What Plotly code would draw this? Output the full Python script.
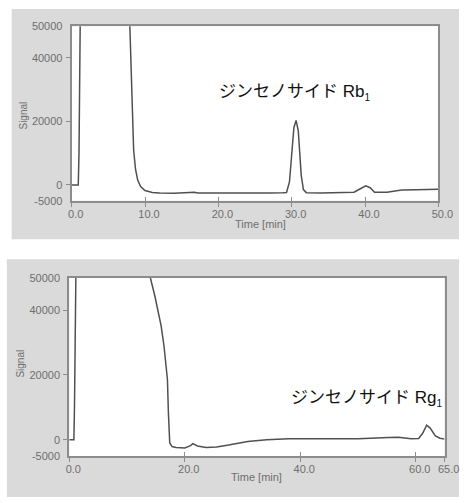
import plotly.graph_objects as go

# ---------------- data ----------------
# Top chromatogram (ginsenoside Rb1)
t_top = [0.0, 0.9, 1.0, 1.2, 7.8, 7.95, 8.1, 8.25, 8.45, 8.7, 9.0, 9.4, 10.0, 11.0, 12.0,
         14.0, 16.7, 17.2, 20.0, 24.0, 27.0, 28.8, 29.3, 29.7, 30.0, 30.3, 30.6, 30.9, 31.1,
         31.3, 31.6, 32.0, 34.0, 37.0, 38.5, 39.3, 40.1, 40.7, 41.3, 43.0, 45.0, 47.0, 50.0]
s_top = [0, 0, 10000, 60000, 60000, 50000, 36000, 25000, 11000, 5000, 1500, -500, -1800, -2400, -2550,
         -2600, -2300, -2550, -2600, -2600, -2550, -2500, -2400, 1000, 10000, 18000, 20300, 17000, 10000,
         3000, -1500, -2450, -2550, -2500, -2300, -1300, -300, -900, -2300, -2300, -1600, -1500, -1400]

# Bottom chromatogram (ginsenoside Rg1)
t_bot = [0.0, 0.8, 0.9, 1.2, 13.8, 13.9, 14.8, 15.9, 16.4, 17.0, 17.17, 17.4, 17.8, 18.5,
         20.0, 21.0, 21.4, 22.2, 23.7, 25.5, 27.6, 30.9, 34.2, 38.0, 45.0, 50.0, 55.3, 57.0,
         59.2, 60.5, 61.2, 61.9, 62.5, 63.4, 64.2, 65.0]
s_bot = [0, 0, 10000, 60000, 60000, 51000, 44500, 35200, 29000, 18600, 8300, -1000, -2100, -2400,
         -2500, -1800, -1200, -1900, -2400, -2200, -1600, -500, 0, 300, 300, 300, 700, 800,
         300, 400, 2000, 4500, 3600, 1200, 500, 200]

x_top_ticks = [0, 10, 20, 30, 40, 50]
x_top_text = ["0.0", "10.0", "20.0", "30.0", "40.0", "50.0"]
x_bot_ticks = [0, 20, 40, 60, 65]
x_bot_text = ["0.0", "20.0", "40.0", "60.0", "65.0"]
y_label_vals = [50000, 40000, 20000, 0, -5000]
y_label_text = ["50000", "40000", "20000", "0", "-5000"]
y_mark_vals = [40000, 20000, 0]

label_top = "ジンセノサイド Rb<sub><span style='font-size:10px'>1</span></sub>"
label_bot = "ジンセノサイド Rg<sub><span style='font-size:10px'>1</span></sub>"
x_title = "Time [min]"
y_title = "Signal"

# ---------------- layout helpers ----------------
W, H = 474, 503
def px(x):
    return x / W
def py(y):
    return 1 - y / H

LINE = "#505050"
FRAME = "#8c8c8c"
TXT = "#6e6e6e"
PANEL = "#dadada"
tick_font = dict(family="Liberation Sans, Arial, sans-serif", size=11, color=TXT)

top_dx = [px(70.5), px(452.5)]
top_dy = [py(199.5), py(20.7)]
bot_dx = [px(68), px(459)]
bot_dy = [py(461), py(278.3)]

fig = go.Figure()
fig.add_trace(go.Scatter(x=t_top, y=s_top, mode="lines", xaxis="x", yaxis="y",
                         line=dict(color=LINE, width=1.5), showlegend=False, hoverinfo="skip"))
fig.add_trace(go.Scatter(x=t_bot, y=s_bot, mode="lines", xaxis="x2", yaxis="y2",
                         line=dict(color=LINE, width=1.5), showlegend=False, hoverinfo="skip"))
# empty traces to carry overlay tick axes
for xa, ya in [("x3", "y"), ("x", "y3"), ("x4", "y2"), ("x2", "y4")]:
    fig.add_trace(go.Scatter(x=[], y=[], xaxis=xa, yaxis=ya, showlegend=False, hoverinfo="skip"))

def xaxis_main(domain, rng, tv, tt, anchor):
    return dict(domain=domain, range=rng, anchor=anchor, tickvals=tv, ticktext=tt,
                ticks="outside", ticklen=4, tickwidth=1.2, tickcolor=FRAME,
                showline=True, mirror=True, linecolor=FRAME, linewidth=2,
                showgrid=False, zeroline=False, tickfont=tick_font, ticklabelshift=4,
                ticklabelstandoff=-2, fixedrange=True)

def xaxis_over(over, rng, tv, anchor):
    return dict(overlaying=over, range=rng, anchor=anchor, tickvals=tv,
                ticks="inside", ticklen=4, tickwidth=1.2, tickcolor=FRAME,
                showticklabels=False, showline=False, showgrid=False, zeroline=False)

def yaxis_main(domain, anchor):
    return dict(domain=domain, range=[-5000, 50000], anchor=anchor,
                tickvals=y_label_vals, ticktext=y_label_text,
                ticks="outside", ticklen=5, tickcolor="rgba(0,0,0,0)",
                showline=True, mirror=True, linecolor=FRAME, linewidth=2,
                showgrid=False, zeroline=False, tickfont=tick_font, fixedrange=True)

def yaxis_over(over, anchor):
    return dict(overlaying=over, range=[-5000, 50000], anchor=anchor, tickvals=y_mark_vals,
                ticks="outside", ticklen=5, tickwidth=1.2, tickcolor=FRAME,
                showticklabels=False, showline=False, showgrid=False, zeroline=False)

ann_font = dict(family="Liberation Sans, Noto Sans CJK JP, sans-serif", size=17, color="#111111")
small_font = dict(family="Liberation Sans, Arial, sans-serif", size=11, color=TXT)
sig_font = dict(family="Liberation Sans, Arial, sans-serif", size=10, color=TXT)

fig.update_layout(
    width=W, height=H,
    margin=dict(l=0, r=0, t=0, b=0),
    paper_bgcolor="white", plot_bgcolor="white",
    xaxis=xaxis_main(top_dx, [0, 50], x_top_ticks, x_top_text, "y"),
    yaxis=yaxis_main(top_dy, "x"),
    xaxis2=xaxis_main(bot_dx, [0, 65], x_bot_ticks, x_bot_text, "y2"),
    yaxis2=yaxis_main(bot_dy, "x2"),
    xaxis3=xaxis_over("x", [0, 50], x_top_ticks, "y"),
    yaxis3=yaxis_over("y", "x"),
    xaxis4=xaxis_over("x2", [0, 65], x_bot_ticks, "y2"),
    yaxis4=yaxis_over("y2", "x2"),
    shapes=[
        dict(type="rect", xref="paper", yref="paper", x0=px(8), x1=1, y0=py(239), y1=py(3),
             fillcolor=PANEL, line=dict(width=0), layer="below"),
        dict(type="rect", xref="paper", yref="paper", x0=px(3), x1=1, y0=0, y1=py(259.5),
             fillcolor=PANEL, line=dict(width=0), layer="below"),
        dict(type="rect", xref="paper", yref="paper", x0=top_dx[0], x1=top_dx[1], y0=top_dy[0], y1=top_dy[1],
             fillcolor="white", line=dict(width=0), layer="below"),
        dict(type="rect", xref="paper", yref="paper", x0=bot_dx[0], x1=bot_dx[1], y0=bot_dy[0], y1=bot_dy[1],
             fillcolor="white", line=dict(width=0), layer="below"),
    ],
    annotations=[
        dict(text=label_top, xref="paper", yref="paper", x=px(222), y=py(89), xanchor="left", yanchor="middle",
             showarrow=False, font=ann_font),
        dict(text=label_bot, xref="paper", yref="paper", x=px(297), y=py(402), xanchor="left", yanchor="middle",
             showarrow=False, font=ann_font),
        dict(text=x_title, xref="paper", yref="paper", x=px(267), y=py(223), xanchor="center", yanchor="middle",
             showarrow=False, font=small_font),
        dict(text=x_title, xref="paper", yref="paper", x=px(263), y=py(483), xanchor="center", yanchor="middle",
             showarrow=False, font=small_font),
        dict(text=y_title, xref="paper", yref="paper", x=px(20), y=py(112), xanchor="center", yanchor="middle",
             textangle=-90, showarrow=False, font=sig_font),
        dict(text=y_title, xref="paper", yref="paper", x=px(17), y=py(366), xanchor="center", yanchor="middle",
             textangle=-90, showarrow=False, font=sig_font),
    ],
)

fig.write_html("out.html", config={"displayModeBar": False},
               post_script="document.body.style.margin='0';document.body.style.overflow='hidden';")
